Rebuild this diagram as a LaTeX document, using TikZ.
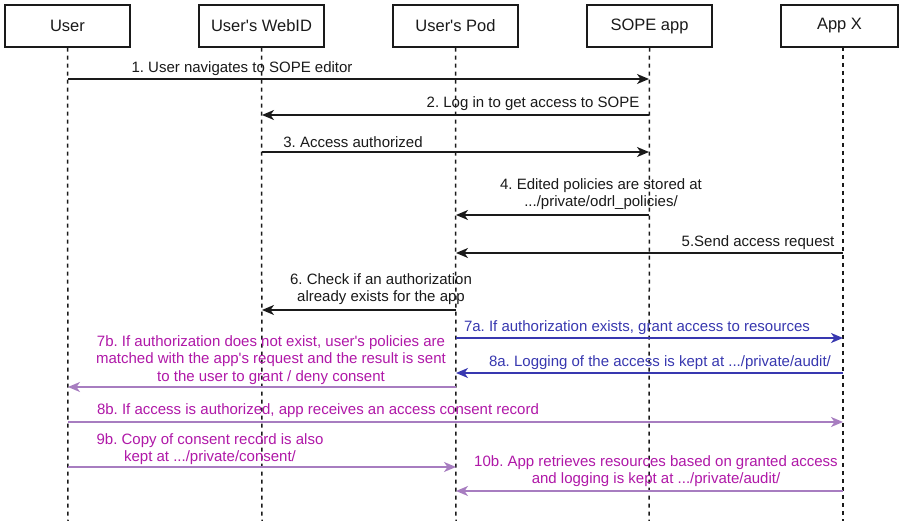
\documentclass[tikz,border=0pt]{standalone}
\usepackage{fontspec}
\setmainfont{Liberation Sans}
\usetikzlibrary{arrows.meta}
\frenchspacing
\definecolor{ink}{HTML}{1A1A1A}
\definecolor{msgblue}{HTML}{3838B0}
\definecolor{msgpurple}{HTML}{B018A8}
\definecolor{linepurple}{HTML}{A77DC0}
\newcommand{\ap}{\textquotesingle}
\tikzset{
  actor/.style={draw=ink, line width=1.3pt, minimum height=42pt, inner sep=0pt,
    font=\fontsize{16.5}{19}\selectfont, text=ink},
  lifeline/.style={draw=ink, line width=1.5pt, dash pattern=on 4pt off 4pt},
  msg/.style={line width=1.4pt, -{Stealth[length=12pt,width=10pt,inset=3.5pt]}},
  blackmsg/.style={msg, draw=ink},
  bluemsg/.style={msg, draw=msgblue},
  purplemsg/.style={msg, draw=linepurple},
  lbl/.style={font=\fontsize{15}{17.5}\selectfont, align=center, inner sep=0pt, text=ink},
  bluelbl/.style={lbl, text=msgblue},
  purplelbl/.style={lbl, text=msgpurple}
}
\begin{document}
\begin{tikzpicture}[x=1pt,y=-1pt]
\useasboundingbox (0,0) rectangle (900,521);
\fill[white] (0,0) rectangle (900,521);

% participants
\node[actor, minimum width=125pt] (user)  at (67.5,26)  {User};
\node[actor, minimum width=125pt] (webid) at (261.5,26) {User\ap s WebID};
\node[actor, minimum width=125pt] (pod)   at (455.5,26) {User\ap s Pod};
\node[actor, minimum width=125pt] (sope)  at (649.5,26) {SOPE app};
\node[actor, minimum width=117pt] (appx)  at (839.5,26) {App X};

% lifeline ends
\coordinate (userend)  at (68,521);
\coordinate (webidend) at (262,521);
\coordinate (podend)   at (456,521);
\coordinate (sopeend)  at (649,521);
\coordinate (appxend)  at (843,521);
\coordinate (appxtop)  at (843,47);

\draw[lifeline] (user.south)  -- (userend);
\draw[lifeline] (webid.south) -- (webidend);
\draw[lifeline] (pod.south)   -- (podend);
\draw[lifeline] (sope.south)  -- (sopeend);
\draw[lifeline] (appxtop)     -- (appxend);

% message anchors on the lifelines
\foreach \n/\y in {1/79,2/115,3/152,4/215,5/253,6/310,7/338,8/373,9/387,10/422,11/467,12/491}{
  \path (userend |- 0,\y)  coordinate (u\n)
        (webidend |- 0,\y) coordinate (w\n)
        (podend |- 0,\y)   coordinate (p\n)
        (sopeend |- 0,\y)  coordinate (s\n)
        (appxend |- 0,\y)  coordinate (a\n);
}

% messages
\draw[blackmsg] (u1) -- (s1);
\node[lbl] (l1) at (242,69) {1. User navigates to SOPE editor};

\draw[blackmsg] (s2) -- (w2);
\node[lbl] (l2) at (533,104) {2. Log in to get access to SOPE};

\draw[blackmsg] (w3) -- (s3);
\node[lbl] (l3) at (353,142) {3. Access authorized};

\draw[blackmsg] (s4) -- (p4);
\node[lbl] (l4) at (601,194) {4. Edited policies are stored at\\.../private/odrl\_policies/};

\draw[blackmsg] (a5) -- (p5);
\node[lbl] (l5) at (758,243) {5.Send access request};

\draw[blackmsg] (p6) -- (w6);
\node[lbl] (l6) at (381,289) {6. Check if an authorization\\already exists for the app};

\draw[bluemsg] (p7) -- (a7);
\node[bluelbl] (l7) at (637,328) {7a. If authorization exists, grant access to resources};

\draw[bluemsg] (a8) -- (p8);
\node[bluelbl] (l8) at (660,363) {8a. Logging of the access is kept at .../private/audit/};

\draw[purplemsg] (p9) -- (u9);
\node[purplelbl] (l9) at (271,360) {7b. If authorization does not exist, user\ap s policies are\\matched with the app\ap s request and the result is sent\\to the user to grant / deny consent};

\draw[purplemsg] (u10) -- (a10);
\node[purplelbl] (l10) at (318,411) {8b. If access is authorized, app receives an access consent record};

\draw[purplemsg] (u11) -- (p11);
\node[purplelbl] (l11) at (210,449) {9b. Copy of consent record is also\\kept at .../private/consent/};

\draw[purplemsg] (a12) -- (p12);
\node[purplelbl] (l12) at (656,471) {10b. App retrieves resources based on granted access\\and logging is kept at .../private/audit/};
\end{tikzpicture}
\end{document}
